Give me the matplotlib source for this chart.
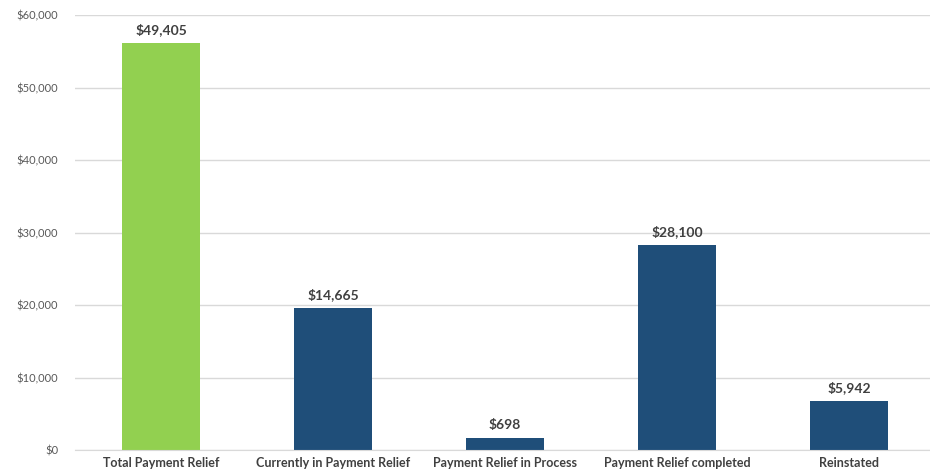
import matplotlib.pyplot as plt
from matplotlib.ticker import FuncFormatter

categories = ['Total Payment Relief', 'Currently in Payment Relief',
              'Payment Relief in Process', 'Payment Relief completed', 'Reinstated']
bar_values = [56100, 19600, 1650, 28250, 6750]
bar_labels = ['$49,405', '$14,665', '$698', '$28,100', '$5,942']
bar_colors = ['#92D050', '#1F4E79', '#1F4E79', '#1F4E79', '#1F4E79']
y_ticks = [0, 10000, 20000, 30000, 40000, 50000, 60000]

plt.rcParams['font.family'] = ['Lato', 'DejaVu Sans']

fig = plt.figure(figsize=(9.3, 4.74), dpi=100)
# axes run a little past the right edge so the categories line up
ax = fig.add_axes([75/930, 24/474, 860/930, 435/474])

x = range(len(categories))
bars = ax.bar(x, bar_values, width=0.45, color=bar_colors, zorder=2)

for b, lab in zip(bars, bar_labels):
    ax.text(b.get_x() + b.get_width()/2, b.get_height() + 1000, lab,
            ha='center', va='bottom', fontsize=10, fontweight='bold', color='#404040')

ax.set_xlim(-0.5, len(categories) - 0.5)
ax.set_ylim(0, 60000)
ax.set_yticks(y_ticks)
ax.yaxis.set_major_formatter(FuncFormatter(lambda v, p: '${:,.0f}'.format(v)))
ax.set_xticks(list(x))
ax.set_xticklabels(categories, fontsize=9, fontweight='bold', color='#404040')
ax.tick_params(axis='y', labelsize=8, labelcolor='#595959', length=0, pad=12)
ax.tick_params(axis='x', length=0, pad=5)

ax.grid(axis='y', color='#d9d9d9', linewidth=1, zorder=0)
for s in ['top', 'right', 'left']:
    ax.spines[s].set_visible(False)
ax.spines['bottom'].set_color('#d9d9d9')

fig.savefig('out.png', dpi=100)
